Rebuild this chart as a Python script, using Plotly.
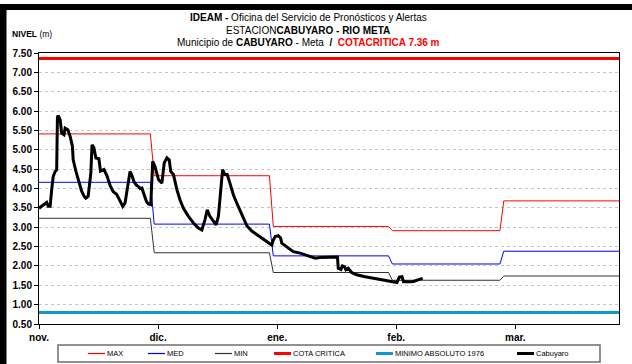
import plotly.graph_objects as go

# --- Datos -------------------------------------------------------------
# Días contados desde el 1 de noviembre (temporada nov.-mar.)
dias_cabuyaro = [
    0.0, 1.1, 2.0, 2.4, 2.9, 3.3, 3.7, 4.2, 4.6, 4.8, 5.0, 5.5, 5.9, 6.5, 6.8,
    7.5, 8.1, 8.7, 8.9, 9.6, 10.5, 11.1, 11.8, 12.2, 12.8, 13.5, 13.8, 14.3,
    14.8, 15.6, 16.0, 16.9, 17.7, 18.5, 19.3, 20.2, 21.1, 21.8, 22.4, 23.0,
    23.7, 24.3, 24.7, 25.4, 25.9, 26.3, 26.8, 27.3, 28.0, 28.5, 29.1, 29.6,
    30.2, 31.1, 32.0, 32.6, 33.3, 33.9, 34.3, 35.0, 35.9, 36.7, 37.6, 38.9,
    40.2, 41.5, 42.4, 43.2, 43.8, 44.5, 45.4, 46.1, 46.7, 47.3, 47.8, 48.4,
    49.0, 49.7, 50.6, 51.5, 52.8, 54.1, 55.4, 57.1, 58.4, 59.3, 60.6, 61.0,
    61.5, 62.3, 62.9, 63.2, 64.5, 66.2, 68.0, 69.7, 71.9, 73.2, 74.9, 77.1,
    77.7, 77.9, 78.6, 79.0, 79.5, 79.9, 80.5, 81.4, 82.7, 84.9, 87.1, 88.8,
    91.0, 93.2, 93.8, 94.5, 94.9, 95.8, 96.6, 97.5, 98.4, 99.2, 99.9,
]
nivel_cabuyaro = [
    3.49, 3.58, 3.64, 3.54, 3.54, 3.97, 4.31, 4.44, 4.48, 5.85, 5.88, 5.78,
    5.43, 5.39, 5.56, 5.52, 5.35, 5.09, 4.74, 4.45, 4.14, 3.93, 3.79, 3.75,
    3.80, 4.40, 5.13, 5.05, 4.79, 4.77, 4.45, 4.49, 4.33, 4.08, 3.92, 3.85,
    3.68, 3.54, 3.62, 4.05, 4.44, 4.31, 4.18, 4.08, 4.05, 4.00, 4.01, 3.86,
    3.66, 3.60, 3.58, 4.70, 4.57, 4.23, 4.14, 4.66, 4.79, 4.74, 4.44, 4.36,
    3.97, 3.71, 3.49, 3.28, 3.11, 2.98, 2.93, 3.19, 3.45, 3.28, 3.15, 3.06,
    3.28, 3.97, 4.49, 4.36, 4.36, 4.14, 3.84, 3.62, 3.32, 3.04, 2.90, 2.78,
    2.70, 2.63, 2.54, 2.67, 2.76, 2.78, 2.72, 2.59, 2.50, 2.37, 2.33, 2.27,
    2.20, 2.22, 2.23, 2.24, 2.23, 1.94, 1.91, 2.00, 1.98, 1.90, 1.94, 1.83,
    1.77, 1.72, 1.68, 1.66, 1.62, 1.57, 1.71, 1.72, 1.59, 1.58, 1.59, 1.60,
    1.64, 1.66, 1.68,
]

# Niveles mensuales históricos (nov., dic., ene., feb., mar.)
mes_inicio = [0, 30, 61, 92, 121]
mes_fin = [29, 60, 91, 120, 151]
nivel_max = [5.41, 4.33, 3.02, 2.91, 3.68]
nivel_med = [4.16, 3.08, 2.26, 2.05, 2.38]
nivel_min = [3.23, 2.34, 1.83, 1.63, 1.74]

cota_critica = 7.36
minimo_absoluto_1976 = 0.80

# Eje X
dias_marca = [0, 31, 62, 93, 124]
etiquetas_mes = ["nov.", "dic.", "ene.", "feb.", "mar."]
dia_final = 151

FUENTE = "Liberation Sans, Arial, sans-serif"

W, H = 632, 364
ML, MR, MT, MB = 39, 13, 53, 40
PW, PH = W - ML - MR, H - MT - MB


def px(x):
    return (x - ML) / PW


def py(y):
    return (H - MB - y) / PH


def escalones(valores):
    xs, ys = [], []
    for a, b, v in zip(mes_inicio, mes_fin, valores):
        xs += [a, b]
        ys += [v, v]
    return xs, ys


fig = go.Figure()

series = [
    ("MAX", nivel_max, "#ff0000"),
    ("MED", nivel_med, "#0000ff"),
    ("MIN", nivel_min, "#333333"),
]
for nombre, vals, color in series:
    xs, ys = escalones(vals)
    fig.add_trace(go.Scatter(x=xs, y=ys, mode="lines", name=nombre,
                             line=dict(color=color, width=1)))

fig.add_trace(go.Scatter(x=[0, dia_final], y=[cota_critica] * 2, mode="lines",
                         name="COTA CRITICA", line=dict(color="#ff0000", width=3)))
fig.add_trace(go.Scatter(x=[0, dia_final], y=[minimo_absoluto_1976] * 2, mode="lines",
                         name="MINIMO ABSOLUTO 1976",
                         line=dict(color="#1396d0", width=3)))
fig.add_trace(go.Scatter(x=dias_cabuyaro, y=nivel_cabuyaro, mode="lines",
                         name="Cabuyaro", line=dict(color="#000000", width=3)))

fig.update_layout(
    width=W, height=H,
    margin=dict(l=ML, r=MR, t=MT, b=MB, pad=0),
    paper_bgcolor="white", plot_bgcolor="white",
    showlegend=False,
    font=dict(family=FUENTE, color="#000000", size=10),
)

fig.update_xaxes(
    range=[0, dia_final], tickmode="array", tickvals=dias_marca,
    ticktext=etiquetas_mes, tickfont=dict(size=10, weight="bold"),
    ticks="outside", ticklen=4, tickcolor="#000000",
    showline=True, linecolor="#000000", linewidth=1, mirror=True,
    showgrid=False, zeroline=False, automargin=False,
)
fig.update_yaxes(
    range=[0.5, 7.5], dtick=0.5, tick0=0.5, tickformat=".2f",
    tickfont=dict(size=10, weight="bold"),
    ticks="outside", ticklen=4, tickcolor="#000000",
    showline=True, linecolor="#000000", linewidth=1, mirror=True,
    showgrid=True, gridcolor="#c4c4c4", griddash="dot", gridwidth=1,
    zeroline=False, automargin=False,
)

# Marco oscuro del documento
shapes = [
    dict(type="rect", xref="paper", yref="paper", x0=px(0), x1=px(6.5),
         y0=py(H + 2), y1=py(4), fillcolor="#000000", line_width=0, layer="above"),
    dict(type="rect", xref="paper", yref="paper", x0=px(0), x1=px(W + 2),
         y0=py(10), y1=py(4), fillcolor="#000000", line_width=0, layer="above"),
]

# Títulos
cx = px(308)
anotaciones = [
    dict(text="<b>IDEAM -</b> Oficina del Servicio de Pronósticos y Alertas",
         x=cx, y=py(17.5)),
    dict(text="ESTACION<b>CABUYARO - RIO META</b>", x=cx, y=py(30)),
    dict(text="Municipio de <b>CABUYARO</b> - Meta&nbsp; <b>/</b>&nbsp; "
              "<b><span style='color:#ff0000'>COTACRITICA 7.36 m</span></b>",
         x=cx, y=py(42)),
]
for a in anotaciones:
    a.update(xref="paper", yref="paper", showarrow=False, xanchor="center",
             yanchor="middle", font=dict(size=10, family=FUENTE))
anotaciones.append(dict(text="<b>NIVEL</b> (m)", x=px(10), y=py(34.5),
                        xref="paper", yref="paper", showarrow=False,
                        xanchor="left", yanchor="middle",
                        font=dict(size=8.5, family=FUENTE)))

# Leyenda
shapes.append(dict(type="rect", xref="paper", yref="paper", x0=px(58), x1=px(600),
                   y0=py(362), y1=py(345), line=dict(color="#6e6e6e", width=1.5),
                   fillcolor="white", layer="above"))
leyenda = [
    ("MAX", "#ff0000", 1.2, 88),
    ("MED", "#0000ff", 1.2, 148),
    ("MIN", "#333333", 1.2, 215),
    ("COTA CRITICA", "#ff0000", 3, 274),
    ("MINIMO ABSOLUTO 1976", "#1396d0", 3, 376),
    ("Cabuyaro", "#000000", 3, 517),
]
yl = py(353.5)
for texto, color, ancho, x0 in leyenda:
    shapes.append(dict(type="line", xref="paper", yref="paper", x0=px(x0),
                       x1=px(x0 + 17), y0=yl, y1=yl, layer="above",
                       line=dict(color=color, width=ancho)))
    anotaciones.append(dict(text=texto, x=px(x0 + 17), y=yl, xref="paper",
                            yref="paper", showarrow=False, xanchor="left",
                            yanchor="middle", font=dict(size=7.5, family=FUENTE)))

fig.update_layout(shapes=shapes, annotations=anotaciones)

fig.write_html("out.html")
